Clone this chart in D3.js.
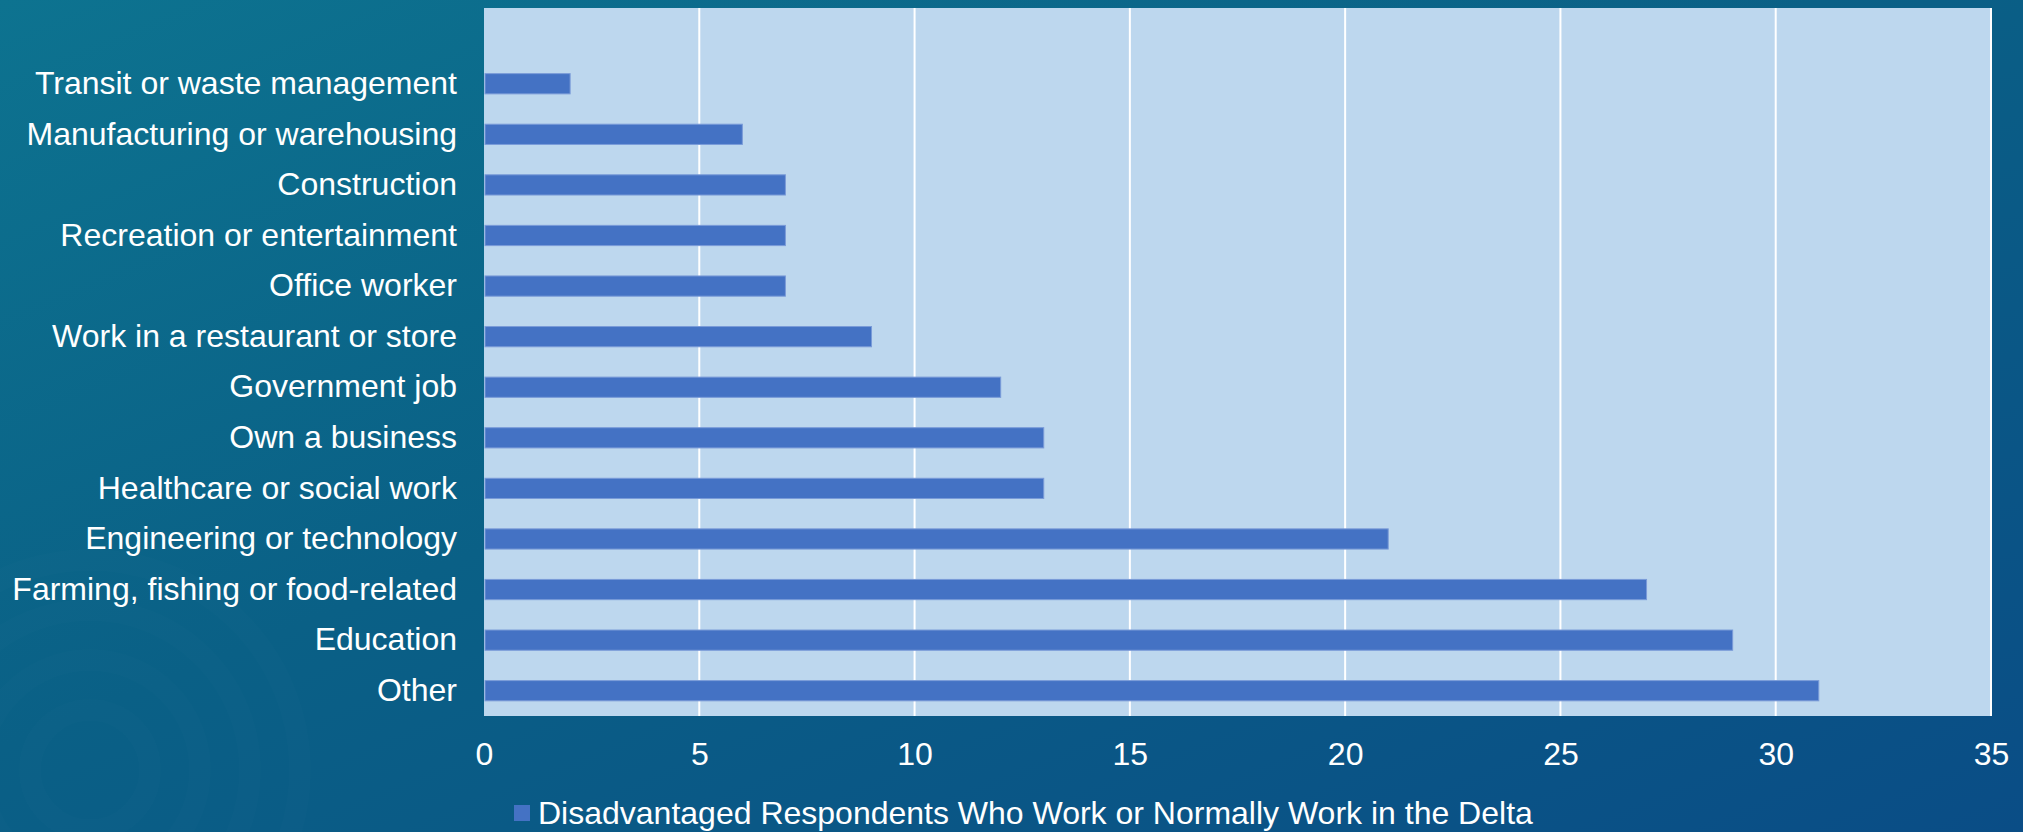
<!DOCTYPE html>
<html>
<head>
<meta charset="utf-8">
<script src="https://cdn.jsdelivr.net/npm/d3@7"></script>
<style>
  html, body { margin: 0; padding: 0; overflow: hidden; }
  body { width: 2023px; height: 832px; }
  text { font-family: "Liberation Sans", Arial, sans-serif; fill: #fff; }
</style>
</head>
<body>
<div id="chart"></div>
<script>
const categories = [
  "Transit or waste management",
  "Manufacturing or warehousing",
  "Construction",
  "Recreation or entertainment",
  "Office worker",
  "Work in a restaurant or store",
  "Government job",
  "Own a business",
  "Healthcare or social work",
  "Engineering or technology",
  "Farming, fishing or food-related",
  "Education",
  "Other"
];
const values = [2, 6, 7, 7, 7, 9, 12, 13, 13, 21, 27, 29, 31];
const xTicks = [0, 5, 10, 15, 20, 25, 30, 35];
const seriesName = "Disadvantaged Respondents Who Work or Normally Work in the Delta";

const W = 2023, H = 832;
const PLOT = { left: 484, right: 1991, top: 8, bottom: 716 };
const BAND = 50.58;
const FONT = 32;

const svg = d3.select("#chart").append("svg")
  .attr("width", W).attr("height", H);

// Background
const defs = svg.append("defs");
const bg = defs.append("linearGradient").attr("id", "bg")
  .attr("x1", "0%").attr("y1", "0%").attr("x2", "100%").attr("y2", "100%");
bg.append("stop").attr("offset", "0%").attr("stop-color", "#0d7390");
bg.append("stop").attr("offset", "45%").attr("stop-color", "#0a6086");
bg.append("stop").attr("offset", "100%").attr("stop-color", "#0a4d86");
svg.append("rect").attr("width", W).attr("height", H).attr("fill", "url(#bg)");

// faint rings bottom-left
[60, 110, 160, 210].forEach(r => {
  svg.append("circle").attr("cx", 90).attr("cy", 770).attr("r", r)
    .attr("fill", "none").attr("stroke", "#ffffff").attr("stroke-opacity", 0.012)
    .attr("stroke-width", 22);
});

const x = d3.scaleLinear().domain([0, 35]).range([PLOT.left, PLOT.right]);
const y = d3.scaleBand().domain(categories)
  .range([PLOT.bottom - BAND * categories.length, PLOT.bottom])
  .paddingInner(0.6).paddingOuter(0.3);

// Plot area
svg.append("rect")
  .attr("x", PLOT.left).attr("y", PLOT.top)
  .attr("width", PLOT.right - PLOT.left).attr("height", PLOT.bottom - PLOT.top)
  .attr("fill", "#bdd7ee");

// Grid lines
svg.selectAll(".grid").data(xTicks.slice(1))
  .enter().append("line")
  .attr("x1", d => x(d)).attr("x2", d => x(d))
  .attr("y1", PLOT.top).attr("y2", PLOT.bottom)
  .attr("stroke", "#ffffff").attr("stroke-width", 2);

// Bars
svg.selectAll(".bar").data(values)
  .enter().append("rect")
  .attr("x", x(0) + 1)
  .attr("y", (d, i) => y(categories[i]))
  .attr("width", d => x(d) - x(0) - 1)
  .attr("height", y.bandwidth())
  .attr("fill", "#4472c4")
  .attr("stroke", "#7a9bd8").attr("stroke-width", 1);

// Category labels
const yAxis = svg.append("g")
  .attr("transform", `translate(${PLOT.left}, 0)`)
  .call(d3.axisLeft(y).tickSize(0).tickPadding(27));
yAxis.select(".domain").remove();
yAxis.selectAll("text")
  .style("font-size", FONT + "px").attr("fill", "#fff");

// X tick labels
const xAxis = svg.append("g")
  .attr("transform", `translate(0, ${PLOT.bottom})`)
  .call(d3.axisBottom(x).tickValues(xTicks).tickSize(0).tickPadding(26));
xAxis.select(".domain").remove();
xAxis.selectAll("text")
  .style("font-size", FONT + "px").attr("fill", "#fff");

// Legend
const lg = svg.append("g").attr("transform", "translate(514, 813)");
lg.append("rect").attr("x", 0).attr("y", -8).attr("width", 16).attr("height", 16)
  .attr("fill", "#4472c4");
lg.append("text").attr("x", 24).attr("y", 0).attr("dy", "0.35em")
  .style("font-size", FONT + "px").text(seriesName);
</script>
</body>
</html>
